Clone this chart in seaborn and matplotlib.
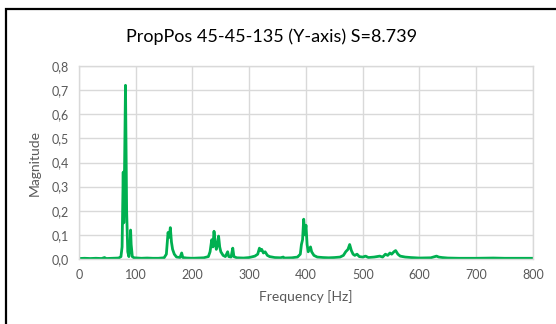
import matplotlib
matplotlib.use("Agg")
import matplotlib.pyplot as plt
import matplotlib.patches as patches
import seaborn as sns
import pandas as pd

# ----------------------------
# Data
# ----------------------------
freq = [0, 10, 20, 30, 40, 45, 48, 60, 70, 74, 76, 78, 79, 80, 82, 84, 86, 88,
        90, 91, 92, 94, 97, 110, 120, 130, 140, 150, 154, 156, 157, 159, 161,
        163, 165, 168, 172, 178, 181, 183, 190, 200, 210, 220, 228, 231, 234,
        236, 238, 240, 242, 244, 246, 248, 250, 254, 258, 262, 264, 268, 271,
        273, 278, 290, 300, 310, 315, 318, 320, 322, 325, 328, 332, 336, 345,
        355, 360, 362, 375, 385, 390, 392, 394, 396, 398, 400, 402, 404, 406,
        408, 410, 414, 420, 430, 440, 450, 460, 466, 470, 474, 477, 480, 483,
        486, 490, 494, 500, 505, 510, 520, 530, 535, 540, 544, 548, 551, 555,
        558, 562, 566, 575, 585, 600, 620, 630, 634, 640, 650, 670, 700, 730,
        750, 780, 800]
magnitude = [0.002, 0.003, 0.002, 0.003, 0.002, 0.006, 0.002, 0.003, 0.004,
             0.01, 0.05, 0.36, 0.15, 0.30, 0.72, 0.20, 0.03, 0.01,
             0.05, 0.12, 0.06, 0.01, 0.005, 0.003, 0.004, 0.003, 0.003, 0.005,
             0.02, 0.08, 0.11, 0.09, 0.13,
             0.07, 0.04, 0.02, 0.008, 0.006, 0.025, 0.006, 0.004, 0.003, 0.004,
             0.005, 0.01, 0.03, 0.08,
             0.05, 0.115, 0.07, 0.04, 0.06, 0.095, 0.05, 0.03, 0.015, 0.01,
             0.03, 0.01, 0.008, 0.045,
             0.01, 0.005, 0.004, 0.006, 0.012, 0.02, 0.045, 0.035, 0.04, 0.025,
             0.03, 0.015, 0.01, 0.006,
             0.005, 0.008, 0.004, 0.005, 0.008, 0.02, 0.06, 0.08, 0.165, 0.10,
             0.14, 0.06, 0.03, 0.04,
             0.05, 0.03, 0.015, 0.008, 0.006, 0.005, 0.006, 0.008, 0.015, 0.03,
             0.04, 0.06, 0.035, 0.02,
             0.015, 0.02, 0.01, 0.008, 0.012, 0.006, 0.008, 0.012, 0.008, 0.02,
             0.015, 0.025, 0.02, 0.03,
             0.035, 0.02, 0.012, 0.008, 0.006, 0.004, 0.005, 0.012, 0.008,
             0.006, 0.004, 0.003, 0.003, 0.004,
             0.003, 0.003, 0.003]
x_ticks = [0, 100, 200, 300, 400, 500, 600, 700, 800]
y_ticks = [0.0, 0.1, 0.2, 0.3, 0.4, 0.5, 0.6, 0.7, 0.8]
y_labels = ["0,0", "0,1", "0,2", "0,3", "0,4", "0,5", "0,6", "0,7", "0,8"]

df = pd.DataFrame({"Frequency": freq, "Magnitude": magnitude})

# ----------------------------
# Style
# ----------------------------
sns.set_style("white")
plt.rcParams["font.family"] = ["Lato", "DejaVu Sans"]

fig = plt.figure(figsize=(5.56, 3.24), dpi=100)
ax = fig.add_axes([0.142, 0.2006, 0.8166, 0.5957])

sns.lineplot(data=df, x="Frequency", y="Magnitude", ax=ax,
             color="#00B050", linewidth=2.0)

ax.set_xlim(0, 800)
ax.set_ylim(0, 0.8)
ax.set_xticks(x_ticks)
ax.set_yticks(y_ticks)
ax.set_yticklabels(y_labels)
ax.grid(True, color="#D9D9D9", linewidth=1)
ax.set_axisbelow(True)
for sp in ax.spines.values():
    sp.set_color("#D9D9D9")
    sp.set_linewidth(1)
ax.tick_params(axis="both", length=0, labelsize=9, labelcolor="#595959", pad=7)

ax.set_xlabel("Frequency [Hz]", fontsize=10, color="#595959", labelpad=7)
ax.set_ylabel("Magnitude", fontsize=10, color="#595959", labelpad=8)

fig.text(0.489, 0.886, "PropPos 45-45-135 (Y-axis) S=8.739",
         ha="center", va="center", fontsize=13, color="black")

# chart border (right and bottom edges fall outside the crop)
fig.patches.append(patches.Rectangle((0.0108, -0.1), 1.2, 1.1 - 9.5 / 324,
                                     transform=fig.transFigure, fill=False,
                                     edgecolor="black", linewidth=1.6,
                                     clip_on=False))

fig.savefig("out.png", dpi=100, facecolor="white")
